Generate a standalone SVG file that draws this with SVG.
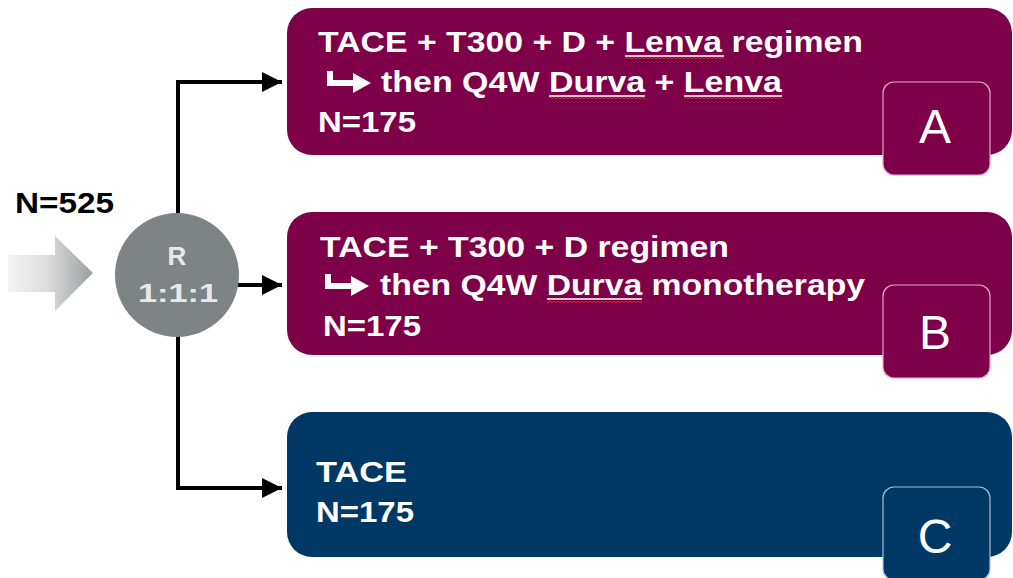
<svg xmlns="http://www.w3.org/2000/svg" width="1013" height="578" viewBox="0 0 1013 578">
<defs>
<style>
.t{font-family:"Liberation Sans",Arial,sans-serif;font-weight:bold;font-size:29px;fill:#ffffff}
.k{font-family:"Liberation Sans",Arial,sans-serif;font-weight:bold;font-size:29px;fill:#000000}
.badge{font-family:"Liberation Sans",Arial,sans-serif;font-size:48px;fill:#ffffff;text-anchor:middle}
.rt{font-family:"Liberation Sans",Arial,sans-serif;font-weight:bold;font-size:26px;fill:#e8e8e8;text-anchor:middle}
.conn{fill:none;stroke:#000000;stroke-width:4}
.ul{stroke:#ffffff;stroke-width:1.6}
.maroon{fill:#7d0049}
.navy{fill:#003865}
</style>
<linearGradient id="grayArrow" x1="0" y1="0" x2="1" y2="0">
<stop offset="0" stop-color="#f4f4f4"/>
<stop offset="0.45" stop-color="#dedede"/>
<stop offset="1" stop-color="#9c9ea0"/>
</linearGradient>
<pattern id="wave" x="0" y="0" width="4" height="4" patternUnits="userSpaceOnUse">
<path d="M0 3 L2 1 L4 3" fill="none" stroke="#d42a2a" stroke-width="1"/>
</pattern>
<marker id="ah" markerUnits="userSpaceOnUse" markerWidth="22" markerHeight="22" refX="20" refY="10" orient="auto" viewBox="0 0 22 22">
<path d="M0 0 L20 10 L0 20 Z" fill="#000000"/>
</marker>
</defs>
<rect width="1013" height="578" fill="#ffffff"/>

<g id="input">
<text class="k" x="15" y="213" textLength="99" lengthAdjust="spacingAndGlyphs">N=525</text>
<path d="M8 255 L55 255 L55 236 L93 273 L55 311 L55 292 L8 292 Z" fill="url(#grayArrow)"/>
</g>

<g id="connectors">
<path class="conn" d="M178 275 L178 82 L282 82" marker-end="url(#ah)"/>
<path class="conn" d="M178 275 L178 488 L282 488" marker-end="url(#ah)"/>
<path class="conn" d="M238 285 L282 285" marker-end="url(#ah)"/>
</g>

<g id="randomize">
<circle cx="177" cy="275" r="62" fill="#7e8386"/>
<text class="rt" x="177" y="265">R</text>
<text class="rt" x="178" y="302" textLength="80" lengthAdjust="spacingAndGlyphs">1:1:1</text>
</g>

<g id="armA">
<rect class="maroon" x="287" y="8" width="725" height="147" rx="25"/>
<text class="t" x="318" y="52" textLength="545" lengthAdjust="spacingAndGlyphs">TACE + T300 + D + Lenva regimen</text>
<path d="M327 71 L333 71 L333 80 L353 80 L353 73 L371 83 L353 93 L353 86 L327 86 Z" fill="#ffffff"/>
<text class="t" x="381" y="92" textLength="401" lengthAdjust="spacingAndGlyphs">then Q4W Durva + Lenva</text>
<text class="t" x="318" y="132" textLength="98" lengthAdjust="spacingAndGlyphs">N=175</text>
<line class="ul" x1="625" y1="56" x2="724" y2="56"/>
<rect x="625" y="57" width="99" height="4" fill="url(#wave)"/>
<line class="ul" x1="549" y1="96" x2="645" y2="96"/>
<rect x="549" y="97" width="96" height="4" fill="url(#wave)"/>
<line class="ul" x1="684" y1="96" x2="782" y2="96"/>
<rect x="684" y="97" width="98" height="4" fill="url(#wave)"/>
<rect class="maroon" x="883" y="82" width="107" height="93" rx="11" stroke="#e7a9c8" stroke-width="1.2"/>
<text class="badge" x="935" y="143">A</text>
</g>

<g id="armB">
<rect class="maroon" x="287" y="212" width="725" height="143" rx="25"/>
<text class="t" x="320" y="257" textLength="409" lengthAdjust="spacingAndGlyphs">TACE + T300 + D regimen</text>
<path d="M325 274 L331 274 L331 283 L351 283 L351 276 L369 286 L351 296 L351 289 L325 289 Z" fill="#ffffff"/>
<text class="t" x="380" y="295" textLength="485" lengthAdjust="spacingAndGlyphs">then Q4W Durva monotherapy</text>
<text class="t" x="323" y="336" textLength="98" lengthAdjust="spacingAndGlyphs">N=175</text>
<line class="ul" x1="547" y1="299" x2="642" y2="299"/>
<rect x="547" y="300" width="95" height="4" fill="url(#wave)"/>
<rect class="maroon" x="883" y="285" width="107" height="93" rx="11" stroke="#e7a9c8" stroke-width="1.2"/>
<text class="badge" x="935" y="349">B</text>
</g>

<g id="armC">
<rect class="navy" x="287" y="412" width="725" height="145" rx="25"/>
<text class="t" x="316" y="482" textLength="91" lengthAdjust="spacingAndGlyphs">TACE</text>
<text class="t" x="316" y="522" textLength="98" lengthAdjust="spacingAndGlyphs">N=175</text>
<rect class="navy" x="883" y="487" width="107" height="93" rx="11" stroke="#a9c0d8" stroke-width="1.2"/>
<text class="badge" x="935" y="553">C</text>
</g>
</svg>
